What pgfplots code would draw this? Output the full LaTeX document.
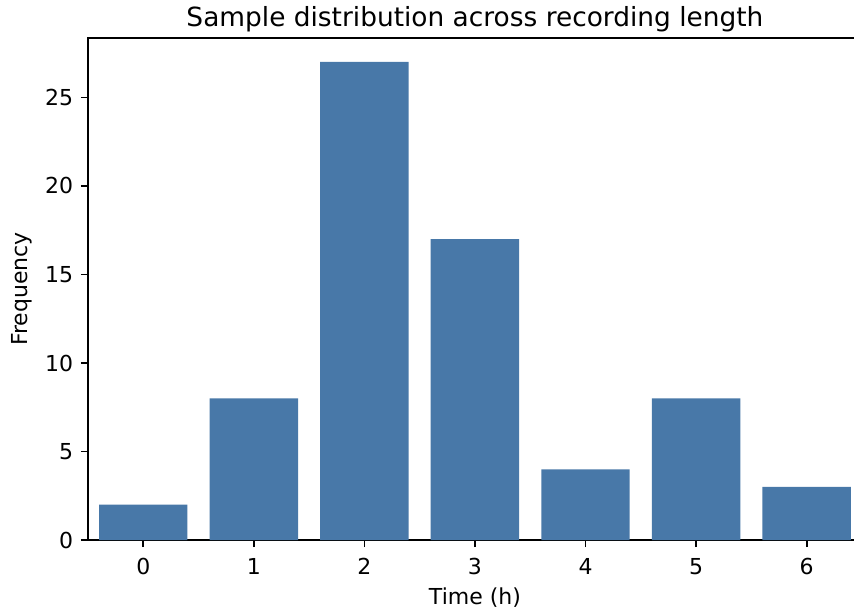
\documentclass[border=0pt]{standalone}
\usepackage{fontspec}
\setmainfont{DejaVu Sans}
\usepackage{pgfplots}
\pgfplotsset{compat=1.18}
\definecolor{barblue}{RGB}{72,120,168}

\begin{document}
\begin{tikzpicture}
% frame matches the reference crop (right spine falls outside)
\useasboundingbox (-40pt,-34.1pt) rectangle (348.2pt,245.5pt);
\clip (-40pt,-34.1pt) rectangle (348.2pt,245.5pt);
\begin{axis}[
    at={(0,0)}, anchor=south west,
    scale only axis,
    width=351.8pt, height=228.2pt,
    xmin=-0.5, xmax=6.5,
    ymin=0, ymax=28.35,
    ybar, bar width=0.8, bar shift=0pt,
    xtick={0,1,2,3,4,5,6},
    ytick={0,5,10,15,20,25},
    xtick pos=bottom, ytick pos=left,
    tick align=outside,
    major tick length=3.2pt,
    tick style={line width=0.8pt, black},
    axis line style={line width=0.8pt},
    /pgf/number format/assume math mode=true,
    tick label style={font=\fontsize{10}{12}\selectfont},
    xticklabel style={yshift=-1.5pt},
    every axis title shift=0pt,
    title={Sample distribution across recording length},
    title style={font=\fontsize{12}{14}\selectfont, at={(axis description cs:0.5,1.024)}, anchor=base},
    xlabel={Time (h)},
    xlabel style={font=\fontsize{10}{12}\selectfont, at={(axis description cs:0.5,-0.1139)}, anchor=center},
    ylabel={Frequency},
    ylabel style={font=\fontsize{10}{12}\selectfont, at={(axis description cs:-0.0853,0.5)}, anchor=center},
]
\addplot[fill=barblue, draw=none] coordinates {
    (0,2) (1,8) (2,27) (3,17) (4,4) (5,8) (6,3)
};
\end{axis}
\end{tikzpicture}
\end{document}
